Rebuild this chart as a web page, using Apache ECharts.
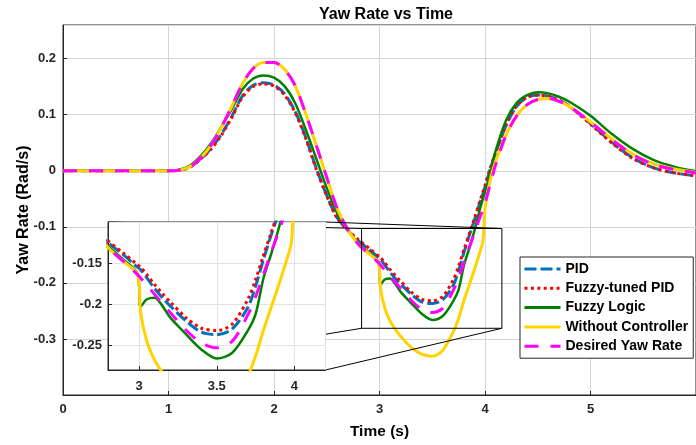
<!DOCTYPE html>
<html><head><meta charset="utf-8">
<script src="https://cdn.jsdelivr.net/npm/echarts@6/dist/echarts.min.js"></script>
<style>html,body{margin:0;padding:0;background:#fff}#c{width:696px;height:445px}</style>
</head><body><div id="c"></div>
<script>
const time = [0, 0.5, 1.0, 1.1, 1.2, 1.3, 1.4, 1.5, 1.6, 1.7, 1.8, 1.9, 2.0, 2.1, 2.2, 2.3, 2.4, 2.5, 2.6, 2.7, 2.8, 2.9, 2.99, 3.01, 3.05, 3.1, 3.15, 3.2, 3.3, 3.4, 3.5, 3.6, 3.7, 3.75, 3.8, 3.85, 3.9, 3.95, 3.98, 4.0, 4.05, 4.1, 4.2, 4.3, 4.4, 4.5, 4.6, 4.7, 4.8, 5.0, 5.2, 5.4, 5.6, 5.8, 6.0];
const pid = [0,0,0, 0.001,0.006,0.020,0.039,0.065,0.097,0.133,0.152,0.157,0.153, 0.137,0.106,0.060,0.005,-0.044,-0.084,-0.106,-0.125,-0.140, -0.155,-0.158, -0.168,-0.181,-0.192,-0.202, -0.220,-0.234,-0.237,-0.230,-0.204, -0.178,-0.146,-0.116,-0.088,-0.058,-0.041, -0.029,0.003,0.031, 0.081,0.115,0.131,0.135,0.133,0.126,0.115, 0.084,0.051,0.023,0.005,-0.004,-0.009];
const fuzzyPid = [0,0,0, 0.001,0.006,0.020,0.038,0.063,0.095,0.131,0.150,0.155,0.151, 0.135,0.104,0.058,0.003,-0.045,-0.085,-0.106,-0.123,-0.138, -0.152,-0.155, -0.164,-0.176,-0.187,-0.197, -0.216,-0.229,-0.232,-0.224,-0.194, -0.170,-0.141,-0.113,-0.085,-0.055,-0.038, -0.026,0.005,0.032, 0.082,0.116,0.131,0.135,0.133,0.126,0.115, 0.083,0.050,0.022,0.005,-0.004,-0.009];
const fuzzyLogic = [0,0,0, 0.002,0.009,0.025,0.048,0.078,0.110,0.145,0.164,0.170,0.166, 0.151,0.121,0.074,0.022,-0.031,-0.076,-0.106,-0.129,-0.146, -0.163,-0.203, -0.194,-0.192,-0.202,-0.216, -0.236,-0.255,-0.266,-0.259,-0.232, -0.212,-0.169,-0.139,-0.107,-0.070,-0.050, -0.038,-0.003,0.035, 0.090,0.121,0.135,0.140,0.138,0.132,0.123, 0.098,0.066,0.039,0.019,0.007,-0.001];
const noControl = [0,0,0, 0.001,0.007,0.022,0.045,0.077,0.115,0.155,0.182,0.193,0.193, 0.181,0.152,0.102,0.046,-0.012,-0.068,-0.105,-0.131,-0.148, -0.164,-0.210, -0.245,-0.268,-0.283,-0.295, -0.315,-0.327,-0.331,-0.320,-0.287, -0.263,-0.232,-0.204,-0.176,-0.146,-0.125, -0.068,-0.016,0.016, 0.064,0.098,0.118,0.127,0.129,0.124,0.115, 0.087,0.057,0.030,0.012,0.003,-0.003];
const desired = [0,0,0, 0.001,0.007,0.022,0.045,0.077,0.115,0.155,0.182,0.193,0.193, 0.181,0.152,0.102,0.046,-0.012,-0.068,-0.105,-0.131,-0.148, -0.164,-0.168, -0.177,-0.188,-0.199,-0.210, -0.231,-0.247,-0.253,-0.245,-0.213, -0.191,-0.164,-0.137,-0.111,-0.084,-0.069, -0.058,-0.024,0.010, 0.064,0.098,0.118,0.127,0.129,0.124,0.115, 0.087,0.056,0.029,0.011,0.002,-0.004];
const seriesNames = ['PID', 'Fuzzy-tuned PID', 'Fuzzy Logic', 'Without Controller', 'Desired Yaw Rate'];
const mainXRange = [0, 6];
const mainYRange = [-0.4, 0.26];
const insetXRange = [2.8, 4.2];
const insetYRange = [-0.28, -0.1];
const zoomBoxX = [2.83, 4.16];
const zoomBoxY = [-0.281, -0.103];

const FONT = "'Liberation Sans', Arial, sans-serif";
const TXT = '#262626';
const styles = [
  {color: '#0072BD', type: [12, 4], width: 3},
  {color: '#FF0000', type: [3, 3.4], width: 3},
  {color: '#008000', type: 'solid', width: 2.5},
  {color: '#FFD200', type: 'solid', width: 3},
  {color: '#FF00FF', type: [14, 12], width: 3}
];
const dataSets = [pid, fuzzyPid, fuzzyLogic, noControl, desired];
const pairs = vals => time.map((t, i) => [t, vals[i]]);
const fmt = v => String(+v.toFixed(2));

const series = [];
dataSets.forEach((vals, k) => {
  const s = styles[k];
  const base = {
    name: seriesNames[k], type: 'line', data: pairs(vals), showSymbol: false, symbol: 'none',
    smooth: 0.3, lineStyle: {color: s.color, width: s.width, type: s.type},
    itemStyle: {color: s.color}, animation: false
  };
  series.push(Object.assign({}, base, {xAxisIndex: 0, yAxisIndex: 0, z: 2}));
  series.push(Object.assign({}, base, {xAxisIndex: 1, yAxisIndex: 1, z: 22, clip: true}));
});
series.push({
  type: 'line', xAxisIndex: 0, yAxisIndex: 0, symbol: 'none', silent: true, animation: false, z: 3,
  data: [[zoomBoxX[0], zoomBoxY[1]], [zoomBoxX[1], zoomBoxY[1]], [zoomBoxX[1], zoomBoxY[0]], [zoomBoxX[0], zoomBoxY[0]], [zoomBoxX[0], zoomBoxY[1]]],
  lineStyle: {color: '#000', width: 1}
});

const axisCommon = {
  type: 'value',
  axisLine: {show: true, onZero: false, lineStyle: {color: TXT, width: 1}},
  axisTick: {show: true, inside: true, length: 4, lineStyle: {color: TXT}},
  axisLabel: {fontFamily: FONT, fontSize: 13, fontWeight: 'bold', color: TXT, formatter: fmt, showMinLabel: false, showMaxLabel: false},
  splitLine: {show: true, lineStyle: {color: '#d6d6d6', width: 1}}
};

const option = {
  animation: false,
  backgroundColor: '#fff',
  title: {text: 'Yaw Rate vs Time', left: 314, top: 2, textStyle: {fontFamily: FONT, fontSize: 16, fontWeight: 'bold', color: '#000'}},
  grid: [
    {left: 63, top: 25, width: 636, height: 372, show: true, backgroundColor: '#fff', borderColor: TXT, borderWidth: 1, containLabel: false},
    {left: 108, top: 222, width: 217.5, height: 148, show: true, backgroundColor: '#fff', borderColor: TXT, borderWidth: 1, z: 20, containLabel: false}
  ],
  xAxis: [
    Object.assign({}, axisCommon, {gridIndex: 0, min: mainXRange[0], max: mainXRange[1], interval: 1,
      axisLabel: Object.assign({}, axisCommon.axisLabel, {margin: 8, showMinLabel: true}),
      name: 'Time (s)', nameLocation: 'middle', nameGap: 29, nameMoveOverlap: false,
      nameTextStyle: {fontFamily: FONT, fontSize: 15.5, fontWeight: 'bold', color: '#000'}}),
    Object.assign({}, axisCommon, {gridIndex: 1, min: insetXRange[0], max: insetXRange[1], splitNumber: 3, minInterval: 0.5, maxInterval: 0.5, z: 21,
      axisLabel: Object.assign({}, axisCommon.axisLabel, {margin: 10}),
      splitLine: {show: true, lineStyle: {color: '#e2e2e2'}}})
  ],
  yAxis: [
    Object.assign({}, axisCommon, {gridIndex: 0, min: mainYRange[0], max: mainYRange[1], interval: 0.1,
      axisLabel: Object.assign({}, axisCommon.axisLabel, {margin: 7}),
      name: 'Yaw Rate (Rad/s)', nameLocation: 'middle', nameGap: 31, nameMoveOverlap: false,
      nameTextStyle: {fontFamily: FONT, fontSize: 16, fontWeight: 'bold', color: '#000'}}),
    Object.assign({}, axisCommon, {gridIndex: 1, min: insetYRange[0], max: insetYRange[1], splitNumber: 4, minInterval: 0.05, maxInterval: 0.05, z: 21,
      axisLabel: Object.assign({}, axisCommon.axisLabel, {margin: 6}),
      splitLine: {show: true, lineStyle: {color: '#e2e2e2'}}})
  ],
  legend: {
    data: seriesNames, orient: 'vertical', left: 520, top: 257,
    itemWidth: 36, itemHeight: 12, itemGap: 5.3, padding: [5, 5, 5, 3],
    borderColor: TXT, borderWidth: 1, backgroundColor: '#fff', z: 30,
    itemStyle: {opacity: 0},
    lineStyle: {width: 3},
    textStyle: {fontFamily: FONT, fontSize: 14, fontWeight: 'bold', color: '#000'}
  },
  series: series
};

const chart = echarts.init(document.getElementById('c'), null, {renderer: 'canvas'});
chart.setOption(option);

const p0 = (x, y) => chart.convertToPixel({gridIndex: 0}, [x, y]);
const p1 = (x, y) => chart.convertToPixel({gridIndex: 1}, [x, y]);
const insetTL = p1(insetXRange[0], insetYRange[1]);
const insetTR = p1(insetXRange[1], insetYRange[1]);
const insetBL = p1(insetXRange[0], insetYRange[0]);
const insetBR = p1(insetXRange[1], insetYRange[0]);
const boxTL = p0(zoomBoxX[0], zoomBoxY[1]);
const boxTR = p0(zoomBoxX[1], zoomBoxY[1]);
const boxBL = p0(zoomBoxX[0], zoomBoxY[0]);
const boxBR = p0(zoomBoxX[1], zoomBoxY[0]);
const mk = (a, b) => ({type: 'line', z: 10, silent: true, shape: {x1: a[0], y1: a[1], x2: b[0], y2: b[1]}, style: {stroke: '#000', lineWidth: 1}});
chart.setOption({graphic: {elements: [mk(insetTL, boxTL), mk(insetTR, boxTR), mk(insetBL, boxBL), mk(insetBR, boxBR)]}});
</script>
</body></html>
